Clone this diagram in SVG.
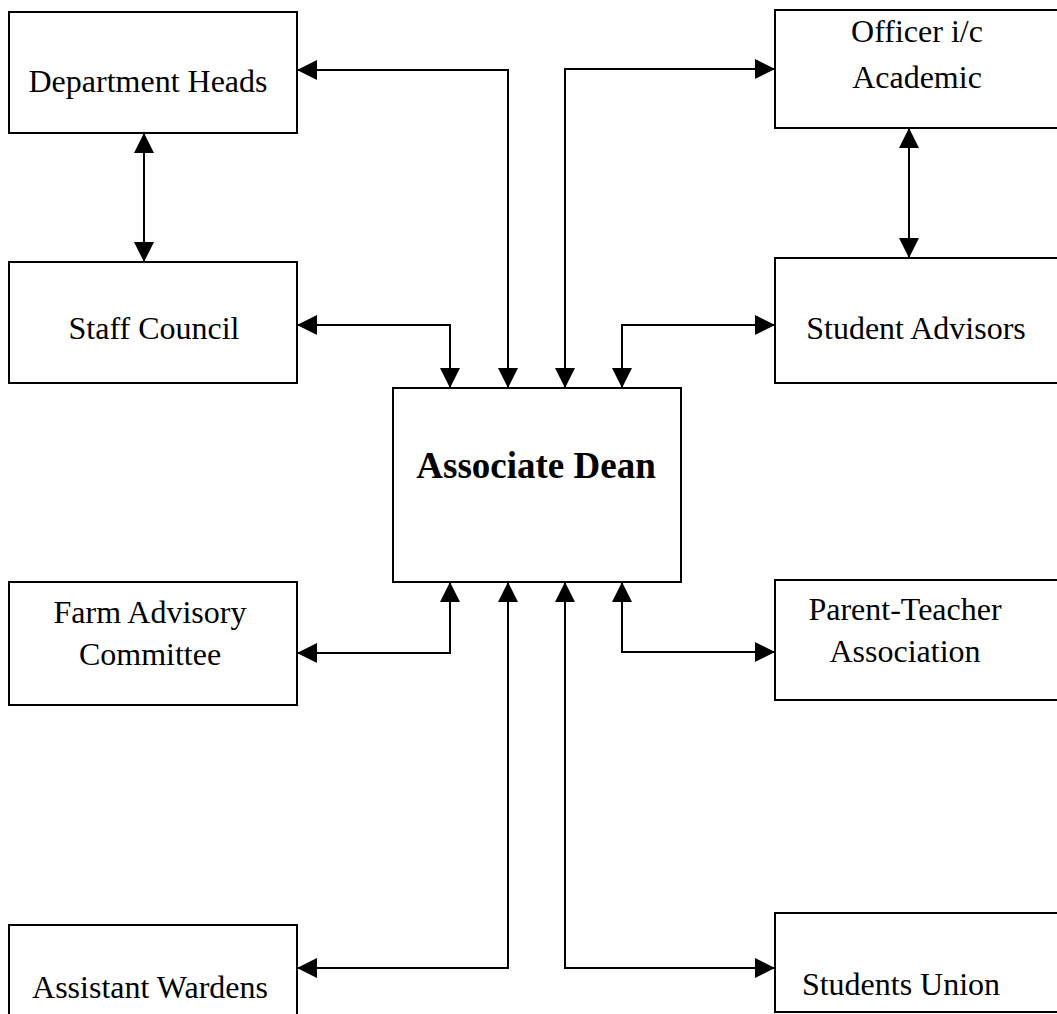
<svg xmlns="http://www.w3.org/2000/svg" width="1057" height="1014" viewBox="0 0 1057 1014">
<style>
.box{fill:#fff;stroke:#000;stroke-width:2}
.t{font-family:"Liberation Serif","Times New Roman",serif;font-size:32px;fill:#000;text-anchor:middle}
.b{font-weight:bold;font-size:37px}
.c{fill:none;stroke:#000;stroke-width:2;marker-start:url(#ah);marker-end:url(#ah)}
</style>
<defs>
<marker id="ah" markerUnits="userSpaceOnUse" viewBox="0 0 20 20" refX="20" refY="10" markerWidth="20" markerHeight="20" orient="auto-start-reverse">
<path d="M0,0 L20,10 L0,20 Z" fill="#000"/>
</marker>
</defs>
<rect width="1057" height="1014" fill="#fff"/>
<g id="connectors">
<path class="c" d="M297,70 H508 V388"/>
<path class="c" d="M565,388 V69 H775"/>
<path class="c" d="M144,133 V262"/>
<path class="c" d="M909,128 V258"/>
<path class="c" d="M297,325 H450 V388"/>
<path class="c" d="M775,325 H622 V388"/>
<path class="c" d="M297,653 H450 V582"/>
<path class="c" d="M775,652 H622 V582"/>
<path class="c" d="M297,968 H508 V582"/>
<path class="c" d="M775,968 H565 V582"/>
</g>
<g id="dept-heads"><rect class="box" x="9" y="12" width="288" height="121"/><text class="t" x="148" y="92">Department Heads</text></g>
<g id="officer-academic"><rect class="box" x="775" y="10" width="290" height="118"/><text class="t" x="917" y="42">Officer i/c</text><text class="t" x="917" y="88">Academic</text></g>
<g id="staff-council"><rect class="box" x="9" y="262" width="288" height="121"/><text class="t" x="154" y="339">Staff Council</text></g>
<g id="student-advisors"><rect class="box" x="775" y="258" width="290" height="125"/><text class="t" x="916" y="339">Student Advisors</text></g>
<g id="associate-dean"><rect class="box" x="393" y="388" width="288" height="194"/><text class="t b" x="536" y="478">Associate Dean</text></g>
<g id="farm-advisory"><rect class="box" x="9" y="582" width="288" height="123"/><text class="t" x="150" y="623">Farm Advisory</text><text class="t" x="150" y="665">Committee</text></g>
<g id="pta"><rect class="box" x="775" y="580" width="290" height="120"/><text class="t" x="905" y="620">Parent-Teacher</text><text class="t" x="905" y="662">Association</text></g>
<g id="assistant-wardens"><rect class="box" x="9" y="925" width="288" height="100"/><text class="t" x="150" y="998">Assistant Wardens</text></g>
<g id="students-union"><rect class="box" x="775" y="913" width="290" height="99"/><text class="t" x="901" y="995">Students Union</text></g>
</svg>
